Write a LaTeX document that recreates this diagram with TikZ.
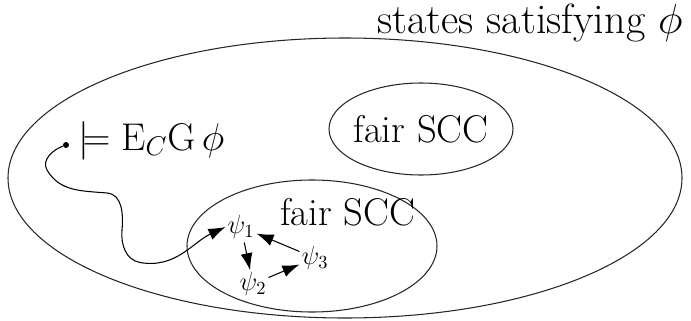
\RequirePackage{fix-cm}
\documentclass[tikz,border=0pt]{standalone}
\usepackage{amsmath}
\usepackage{amssymb}
\usepackage{tikz}
\usetikzlibrary{arrows.meta, positioning, calc}

\begin{document}
\begin{tikzpicture}[
    >={Latex[length=3.4mm, width=2.4mm]},
    region/.style={draw, line width=0.6pt, black!85},
    big/.style={font=\fontsize{22}{26}\selectfont},
    state/.style={font=\fontsize{15}{18}\selectfont, inner sep=1pt},
]
    \useasboundingbox (0,0) rectangle (13.82,6.4);

    % States satisfying phi
    \draw[region] (6.9,2.84) ellipse [x radius=6.74, y radius=2.8];
    \node[big, font=\fontsize{24}{28}\selectfont, anchor=base] (title) at (10.6,5.74) {states satisfying $\phi$};

    % Fair SCCs
    \draw[region] (8.42,3.82) ellipse [x radius=1.84, y radius=0.92];
    \node[big] (scctop) at (8.42,3.82) {fair SCC};
    \draw[region] (6.24,1.48) ellipse [x radius=2.5, y radius=1.32];
    \node[big] (sccbot) at (6.95,2.16) {fair SCC};

    % Start state
    \node[circle, fill, inner sep=1.2pt] (start) at (1.32,3.5) {};
    \node[big, anchor=base west, inner sep=0pt] (formula) at (1.56,3.4) {${\models}\;\mathrm{E}_C\mathrm{G}\,\phi$};

    % Cycle inside the SCC
    \node[state] (psi1) at (4.82,1.86) {$\psi_1$};
    \node[state] (psi2) at (5.06,0.72) {$\psi_2$};
    \node[state] (psi3) at (6.3,1.24) {$\psi_3$};

    \draw[->, line width=0.6pt] (start) to[out=200, in=120] (0.94,3.0)
        to[out=-60, in=175] (2.14,2.54)
        to[out=-5, in=85] (2.44,1.8)
        to[out=-95, in=170] (2.8,1.15)
        to[out=-10, in=205] (psi1.west);
    \draw[->, line width=0.6pt, shorten <=1pt] (psi1) -- (psi2);
    \draw[->, line width=0.6pt] (psi2) -- (psi3);
    \draw[->, line width=0.6pt] (psi3) -- (psi1);
\end{tikzpicture}
\end{document}
